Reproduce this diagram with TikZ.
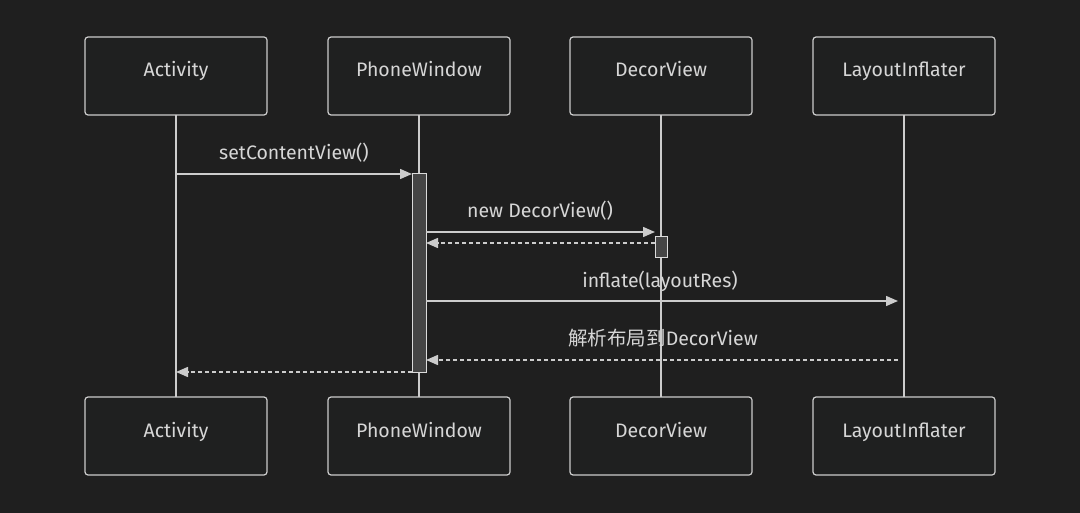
\documentclass[tikz,border=0pt]{standalone}
\usepackage{fontspec}
\setmainfont{Fira Sans}
\newfontfamily\cjk{Noto Sans CJK SC}
\usetikzlibrary{arrows.meta}
\definecolor{bg}{HTML}{1F1F1F}
\definecolor{boxfill}{HTML}{1F2020}
\definecolor{linec}{HTML}{CCCCCC}
\definecolor{txt}{HTML}{D6D6D6}
\definecolor{actfill}{HTML}{454545}
\begin{document}
\begin{tikzpicture}[x=1pt,y=-1pt,
  actor/.style={draw=linec,fill=boxfill,rounded corners=3pt,line width=1.2pt,minimum width=182pt,minimum height=78pt,text=txt,font=\fontsize{19.5}{21}\selectfont,inner sep=0pt,text height=10pt,text depth=8pt},
  life/.style={draw=linec,line width=1.5pt},
  act/.style={draw=linec!70,fill=actfill,line width=1pt},
  msg/.style={draw=linec,line width=1.5pt,-{Triangle[length=12pt,width=10pt]}},
  ret/.style={msg,dash pattern=on 4pt off 3pt},
  lbl/.style={text=txt,font=\fontsize{19.5}{21}\selectfont,inner sep=0pt,text height=13pt,text depth=4pt}]
\fill[bg] (0,0) rectangle (1080,513);
\useasboundingbox (0,0) rectangle (1080,513);
% lifelines
\foreach \x/\n in {176/a,419/p,661/d,904/l}{
  \coordinate (\n top) at (\x,115);
  \coordinate (\n bot) at (\x,397);
  \draw[life] (\n top) -- (\n bot);
}
% activations
\node[act,minimum width=14pt,minimum height=198pt,inner sep=0pt] (pact) at (419,273) {};
\node[act,minimum width=12pt,minimum height=21pt,inner sep=0pt] (dact) at (661,247.5) {};
% actors
\node[actor] (a1) at (176,76) {Activity};
\node[actor] (p1) at (419,76) {PhoneWindow};
\node[actor] (d1) at (661,76) {DecorView};
\node[actor] (l1) at (904,76) {LayoutInflater};
\node[actor] (a2) at (176,436) {Activity};
\node[actor] (p2) at (419,436) {PhoneWindow};
\node[actor] (d2) at (661,436) {DecorView};
\node[actor] (l2) at (904,436) {LayoutInflater};
% messages
\coordinate (m1s) at (176,174); \coordinate (m1e) at (412,174);
\draw[msg] (m1s) -- (m1e);
\node[lbl] (t1) at (294,155) {setContentView()};
\coordinate (m2s) at (426,232); \coordinate (m2e) at (655,232);
\draw[msg] (m2s) -- (m2e);
\node[lbl] (t2) at (540,213) {new DecorView()};
\coordinate (m3s) at (655,243); \coordinate (m3e) at (426,243);
\draw[ret] (m3s) -- (m3e);
\coordinate (m4s) at (426,301); \coordinate (m4e) at (898,301);
\draw[msg] (m4s) -- (m4e);
\node[lbl] (t4) at (660,283) {inflate(layoutRes)};
\coordinate (m5s) at (898,360); \coordinate (m5e) at (426,360);
\draw[ret] (m5s) -- (m5e);
\node[lbl] (t5) at (663,341) {{\cjk 解析布局到}DecorView};
\coordinate (m6s) at (412,372); \coordinate (m6e) at (176,372);
\draw[ret] (m6s) -- (m6e);
\end{tikzpicture}
\end{document}
